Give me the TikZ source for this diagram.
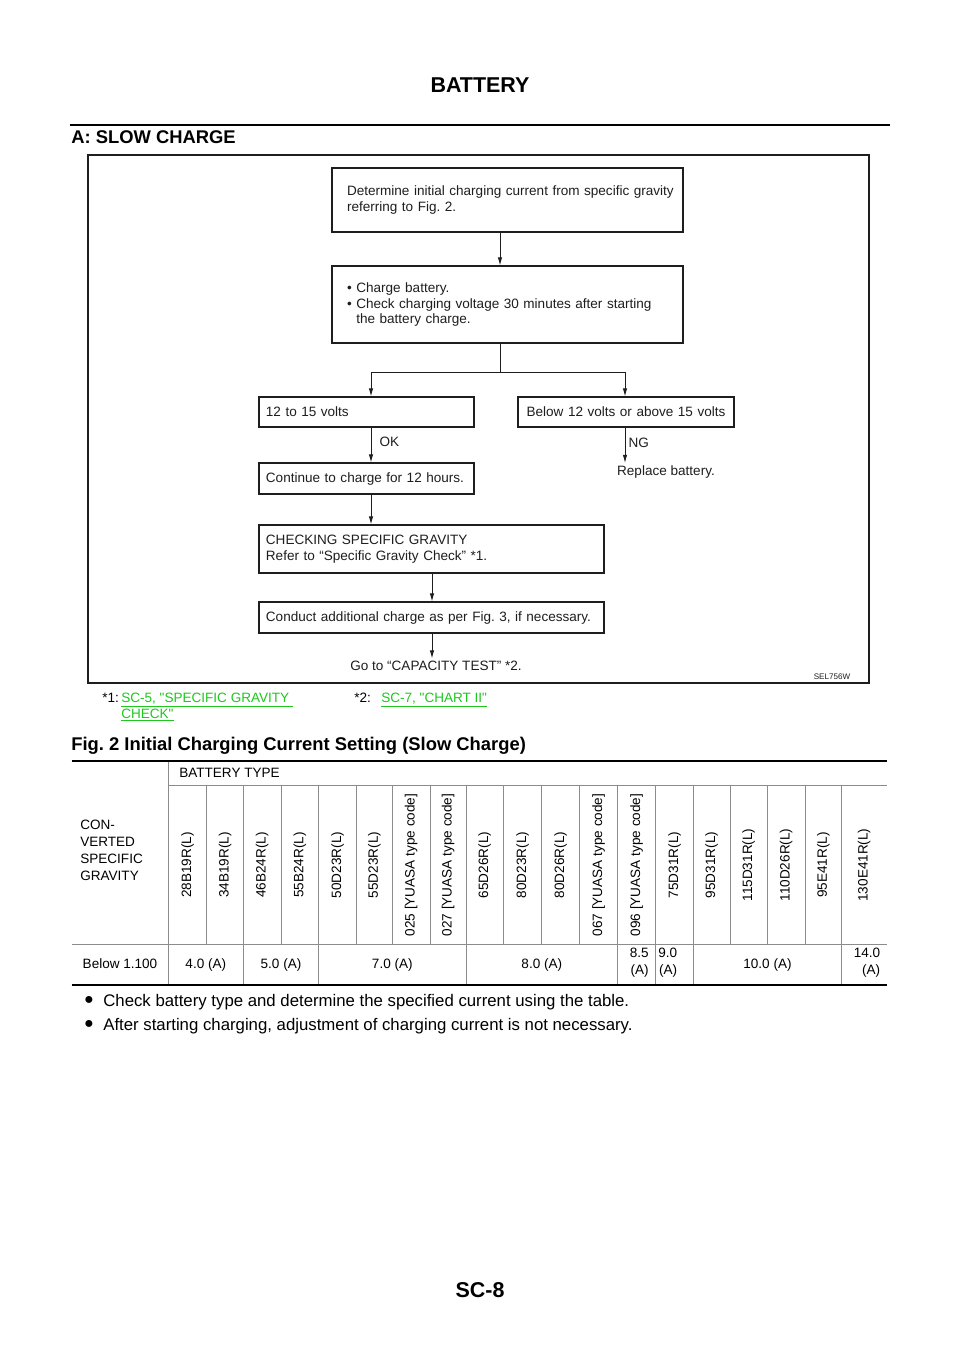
\documentclass[tikz,border=0pt]{standalone}
\usepackage{fontspec}
\setmainfont{Liberation Sans}[Ligatures=TeXOff]
\usetikzlibrary{arrows.meta}
\definecolor{linkgreen}{RGB}{30,200,30}
\definecolor{ink}{RGB}{30,30,30}
\newcommand{\fs}[2]{\fontsize{#1}{#2}\selectfont}
\frenchspacing
\begin{document}
\begin{tikzpicture}[x=0.62pt,y=-0.62pt,
  every node/.style={inner sep=0pt},
  fbox/.style={draw=ink, line width=0.7pt, inner xsep=9.3pt, inner ysep=0pt, align=left, text=ink, font=\fs{8.4}{9.7}},
  sbox/.style={fbox, inner xsep=4.3pt},
  wire/.style={draw=ink, line width=0.6pt},
  arr/.style={wire, -{Latex[length=5pt,width=2.8pt]}},
  flow/.style={text=ink, font=\fs{8.4}{9.7}},
  tbl/.style={font=\fs{8.4}{10.5}},
  fn/.style={font=\fs{8.4}{9.9}},
  grid/.style={draw=black!45, line width=0.45pt},
  rule/.style={draw=black, line width=1.3pt},
  body/.style={font=\fs{10.4}{12}},
  ]
\useasboundingbox[fill=white] (0,0) rectangle (960,1358);

% page header
\node[anchor=base, font=\bfseries\fs{13.3}{15}] (hdr) at (480,92.7) {BATTERY};
\draw[line width=1.6pt] (70,125) -- (890,125);
\node[anchor=base west, font=\bfseries\fs{11.4}{13}] (secA) at (71,143.6) {A: SLOW CHARGE};

% flowchart frame
\draw[line width=1.2pt, draw=ink] (88,155) rectangle (869,683);

% flowchart boxes
\node[fbox, text width=199pt, minimum height=39.7pt] (b1) at (507.5,200)
  {\mbox{Determine initial charging current from specific gravity}\\referring to Fig. 2.};
\node[fbox, text width=199pt, minimum height=47.7pt] (b2) at (507.5,304.5)
  {\mbox{• Charge battery.}\\\mbox{• Check charging voltage 30 minutes after starting}\\\mbox{\phantom{• }the battery charge.}};
\node[sbox, text width=124.7pt, minimum height=18.6pt] (b3) at (366.5,412) {12 to 15 volts};
\node[sbox, align=center, text width=125.3pt, minimum height=18.6pt] (b4) at (626,412) {Below 12 volts or above 15 volts};
\node[sbox, text width=124.7pt, minimum height=19.2pt] (b5) at (366.5,478.5) {Continue to charge for 12 hours.};
\node[sbox, text width=205.3pt, minimum height=29.8pt] (b6) at (431.5,549)
  {CHECKING SPECIFIC GRAVITY\\Refer to “Specific Gravity Check” *1.};
\node[sbox, text width=205.3pt, minimum height=19.2pt] (b7) at (431.5,617.5)
  {Conduct additional charge as per Fig. 3, if necessary.};
\node[flow, inner sep=1.5pt] (rep) at (666,472) {Replace battery.};
\node[flow, inner sep=1.5pt] (goto) at (436,666) {Go to “CAPACITY TEST” *2.};
\node[font=\fs{5}{6}, text=ink] (sel) at (832,677) {SEL756W};

% connector guide coordinates
\coordinate (trunk) at (500,0);
\coordinate (split) at (500,372);
\coordinate (okx) at (371,0);
\coordinate (ngx) at (625,0);
\coordinate (chkx) at (432,0);

\draw[arr] (b1.south -| trunk) -- (b2.north -| trunk);
\draw[wire] (b2.south -| trunk) -- (split);
\draw[arr] (split) -| (b3.north -| okx);
\draw[arr] (split) -| (b4.north -| ngx);
\draw[arr] (b3.south -| okx) -- node[pos=0.42, right=5pt, flow] (ok) {OK} (b5.north -| okx);
\draw[arr] (b4.south -| ngx) -- node[pos=0.42, right=2pt, flow] (ng) {NG} (rep.north -| ngx);
\draw[arr] (b5.south -| okx) -- (b6.north -| okx);
\draw[arr] (b6.south -| chkx) -- (b7.north -| chkx);
\draw[arr] (b7.south -| chkx) -- (goto.north -| chkx);

% footnotes
\node[fn, anchor=base west] (fn1) at (102,702) {*1:};
\node[fn, anchor=base west, text=linkgreen] (fn1a) at (121,702) {\underline{SC-5, "SPECIFIC GRAVITY\ }};
\node[fn, anchor=base west, text=linkgreen] (fn1b) at (121,718) {\underline{CHECK"}};
\node[fn, anchor=base west] (fn2) at (354,702) {*2:};
\node[fn, anchor=base west, text=linkgreen] (fn2a) at (381,702) {\underline{SC-7, "CHART II"}};

% Fig. 2 heading
\node[anchor=base west, font=\bfseries\fs{11.4}{13}] (fig2) at (71,750.6) {Fig. 2 Initial Charging Current Setting (Slow Charge)};

% table grid
\draw[grid] (168.3,785.7) -- (886.7,785.7);
\draw[grid] (71.7,944) -- (886.7,944);
\draw[grid] (168.3,761) -- (168.3,985);
\foreach \x in {206.7,243.3,281,318.7,356.7,392,430,466,503.3,541.7,579.3,617.7,655.7,693.3,730,767.3,805,841.7}
  \draw[grid] (\x,785.7) -- (\x,944);
\foreach \x in {243.3,318.7,466,617.7,655.7,693.3,841.7}
  \draw[grid] (\x,944) -- (\x,985);
\draw[rule] (71.7,761) -- (886.7,761);
\draw[rule] (71.7,985) -- (886.7,985);

% table header
\node[tbl, anchor=base west] (bt) at (179,777) {BATTERY TYPE};
\node[tbl, anchor=west, align=left] (cvsg) at (80,850.5) {CON-\\VERTED\\SPECIFIC\\GRAVITY};
\foreach \l/\r/\t [count=\i] in {168.3/206.7/28B19R(L), 206.7/243.3/34B19R(L), 243.3/281/46B24R(L), 281/318.7/55B24R(L), 318.7/356.7/50D23R(L), 356.7/392/55D23R(L), 392/430/025 [YUASA type code], 430/466/027 [YUASA type code], 466/503.3/65D26R(L), 503.3/541.7/80D23R(L), 541.7/579.3/80D26R(L), 579.3/617.7/067 [YUASA type code], 617.7/655.7/096 [YUASA type code], 655.7/693.3/75D31R(L), 693.3/730/95D31R(L), 730/767.3/115D31R(L), 767.3/805/110D26R(L), 805/841.7/95E41R(L), 841.7/886.7/130E41R(L)}
  \node[tbl, rotate=90] (h\i) at ({(\l+\r)/2},865) {\t};

% data row
\node[tbl, anchor=base] (sg) at (120,968) {Below 1.100};
\node[tbl, anchor=base] (d1) at (205.8,968) {4.0 (A)};
\node[tbl, anchor=base] (d2) at (281,968) {5.0 (A)};
\node[tbl, anchor=base] (d3) at (392.3,968) {7.0 (A)};
\node[tbl, anchor=base] (d4) at (541.8,968) {8.0 (A)};
\node[tbl, anchor=east, align=right] (d5) at (649,963) {8.5\\(A)};
\node[tbl, anchor=west, align=right] (d6) at (658,963) {9.0\\(A)};
\node[tbl, anchor=base] (d7) at (767.5,968) {10.0 (A)};
\node[tbl, anchor=east, align=right] (d8) at (880.5,963) {14.0\\(A)};

% notes
\node[font=\fs{10}{11}] (bul1) at (89,1000) {●};
\node[body, anchor=base west] (n1) at (103,1006) {Check battery type and determine the specified current using the table.};
\node[font=\fs{10}{11}] (bul2) at (89,1024) {●};
\node[body, anchor=base west] (n2) at (103,1030) {After starting charging, adjustment of charging current is not necessary.};

% page number
\node[anchor=base, font=\bfseries\fs{13.3}{15}] (pg) at (480,1297.7) {SC-8};
\end{tikzpicture}
\end{document}
